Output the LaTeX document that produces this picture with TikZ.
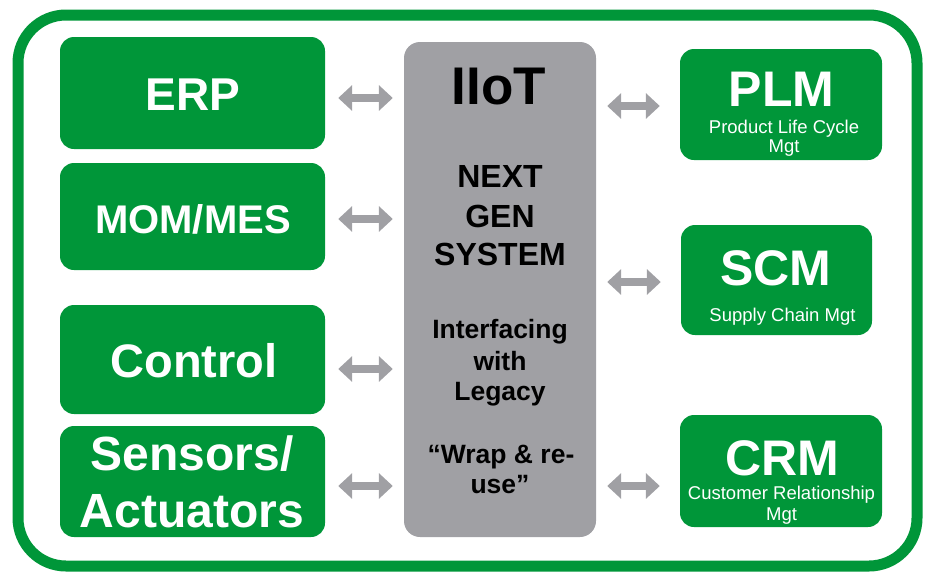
\documentclass[tikz,border=0pt]{standalone}
\usepackage{fontspec}
\setmainfont{Liberation Sans}
\usetikzlibrary{arrows.meta,calc}
\definecolor{igreen}{RGB}{0,150,57}
\definecolor{igray}{RGB}{160,160,164}
\newcommand\myfs[1]{\fontsize{#1}{#1}\selectfont}
\begin{document}
\begin{tikzpicture}[x=1pt,y=-1pt,
  frame/.style={draw=igreen, line width=11pt, rounded corners=48pt, inner sep=0pt},
  gbox/.style={fill=igreen, rounded corners=14pt, inner sep=0pt},
  corebox/.style={fill=igray, rounded corners=16pt, inner sep=0pt},
  biarrow/.style={draw=igray, line width=8pt, {Triangle[length=14pt,width=25pt]}-{Triangle[length=14pt,width=25pt]}},
  wtxt/.style={anchor=base, inner sep=0pt, text=white, font=\bfseries},
  stxt/.style={anchor=base, inner sep=0pt, text=white, font=\myfs{18.5}},
  ktxt/.style={anchor=base, inner sep=0pt, text=black, font=\bfseries}
]
\useasboundingbox (0,0) rectangle (926,573);
\node[frame, minimum width=899pt, minimum height=551pt] (frame) at (467.5,290.5) {};
% left boxes
\node[gbox, minimum width=265pt, minimum height=112pt] (erp) at (192.5,93) {};
\node[gbox, minimum width=265pt, minimum height=107pt] (mom) at (192.5,216.5) {};
\node[gbox, minimum width=265pt, minimum height=109pt] (ctrl) at (192.5,359.5) {};
\node[gbox, minimum width=265pt, minimum height=111pt] (sens) at (192.5,481.5) {};
% core
\node[corebox, minimum width=192pt, minimum height=495pt] (core) at (500,289.5) {};
% right boxes
\node[gbox, minimum width=202pt, minimum height=111pt] (plm) at (781,104.5) {};
\node[gbox, minimum width=191pt, minimum height=110pt] (scm) at (776.5,280) {};
\node[gbox, minimum width=202pt, minimum height=112pt] (crm) at (781,471) {};
% left texts
\node[wtxt, font=\bfseries\myfs{46}] (terp) at (193,110) {ERP};
\node[wtxt, font=\bfseries\myfs{40}] (tmom) at (193,233) {MOM/MES};
\node[wtxt, font=\bfseries\myfs{47}] (tctrl) at (194,377) {Control};
\node[wtxt, font=\bfseries\myfs{48}] (tsens1) at (192,470) {Sensors/};
\node[wtxt, font=\bfseries\myfs{48}] (tsens2) at (192,527) {Actuators};
% core texts
\node[ktxt, font=\bfseries\myfs{53}] (tiiot) at (499,104) {IIoT};
\node[ktxt, font=\bfseries\myfs{32}] (tnext) at (500,187) {NEXT};
\node[ktxt, font=\bfseries\myfs{32}] (tgen) at (500,227) {GEN};
\node[ktxt, font=\bfseries\myfs{32}] (tsys) at (500,265) {SYSTEM};
\node[ktxt, font=\bfseries\myfs{26.5}] (tint) at (500,338) {Interfacing};
\node[ktxt, font=\bfseries\myfs{26.5}] (twith) at (500,370) {with};
\node[ktxt, font=\bfseries\myfs{26.5}] (tleg) at (500,400) {Legacy};
\node[ktxt, font=\bfseries\myfs{26.5}] (twrap) at (501,463) {“Wrap \& re-};
\node[ktxt, font=\bfseries\myfs{26.5}] (tuse) at (500,493) {use”};
% right texts
\node[wtxt, font=\bfseries\myfs{50}] (tplm) at (781.5,106) {PLM};
\node[stxt] (tplm1) at (784,133) {Product Life Cycle};
\node[stxt] (tplm2) at (784,152) {Mgt};
\node[wtxt, font=\bfseries\myfs{50}] (tscm) at (776,285) {SCM};
\node[stxt] (tscm1) at (782.5,321) {Supply Chain Mgt};
\node[wtxt, font=\bfseries\myfs{50}] (tcrm) at (782.5,475) {CRM};
\node[stxt] (tcrm1) at (781.5,499) {Customer Relationship};
\node[stxt] (tcrm2) at (781.5,520) {Mgt};
% arrows left
\draw[biarrow] ($(erp.east)+(13,5)$) -- ($(core.west |- erp.east)+(-11,5)$);
\draw[biarrow] ($(mom.east)+(13,2.5)$) -- ($(core.west |- mom.east)+(-11,2.5)$);
\draw[biarrow] ($(ctrl.east)+(13,9.5)$) -- ($(core.west |- ctrl.east)+(-11,9.5)$);
\draw[biarrow] ($(sens.east)+(13,4.5)$) -- ($(core.west |- sens.east)+(-11,4.5)$);
% arrows right
\draw[biarrow] ($(core.east |- plm.west)+(11,1.5)$) -- ($(plm.west)+(-20,1.5)$);
\draw[biarrow] ($(core.east |- scm.west)+(11,2)$) -- ($(scm.west)+(-20,2)$);
\draw[biarrow] ($(core.east |- crm.west)+(11,15)$) -- ($(crm.west)+(-20,15)$);
\end{tikzpicture}
\end{document}
